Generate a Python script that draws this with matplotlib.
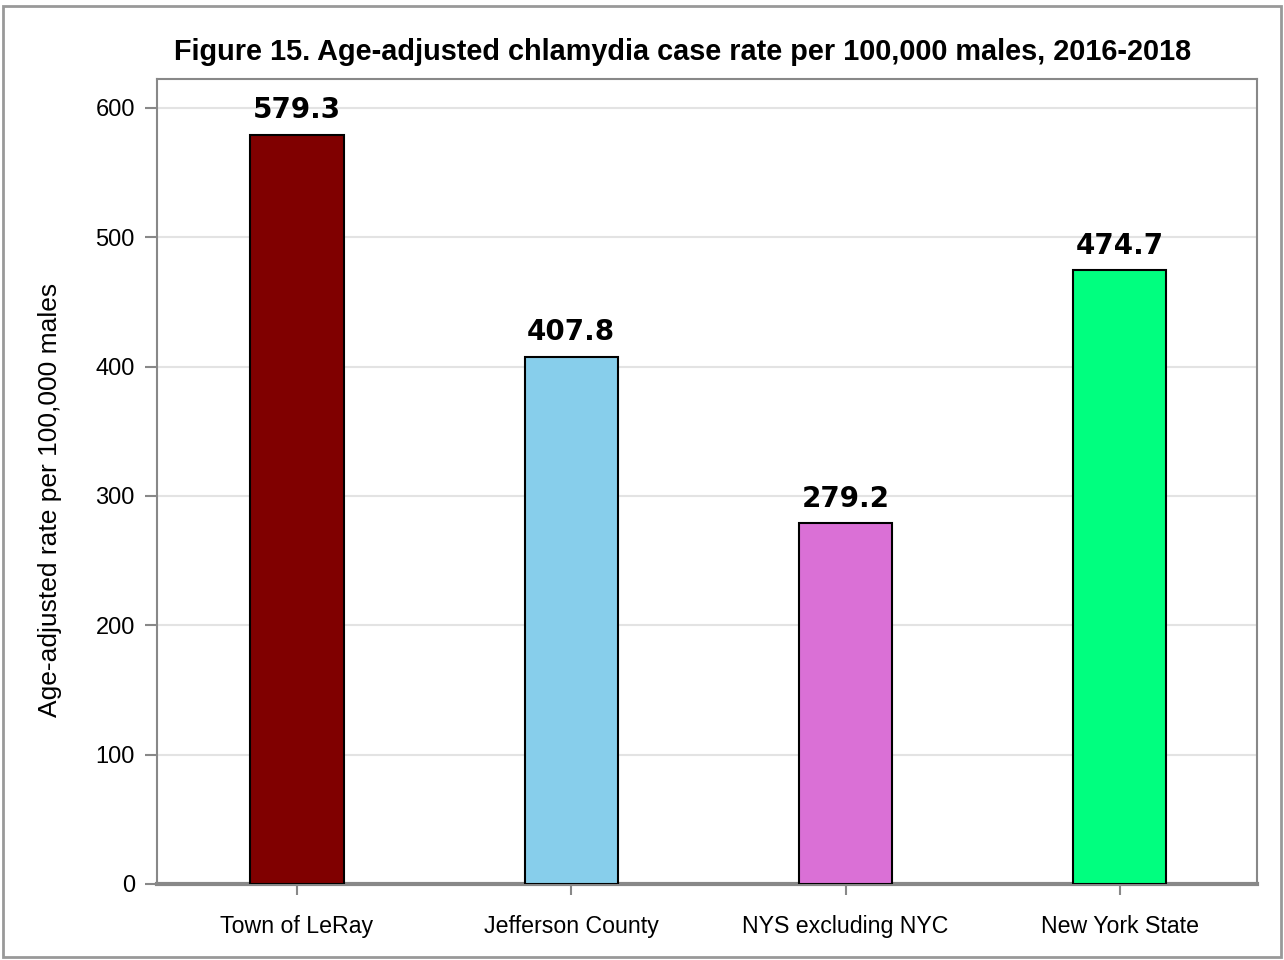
import matplotlib.pyplot as plt
from matplotlib.patches import Rectangle

categories = ['Town of LeRay', 'Jefferson County', 'NYS excluding NYC', 'New York State']
rates = [579.3, 407.8, 279.2, 474.7]
colors = ['#800000', '#87CEEB', '#DA70D6', '#00FF7F']
yticks = [0, 100, 200, 300, 400, 500, 600]

fig = plt.figure(figsize=(12.84, 9.6), dpi=100)
ax = fig.add_axes([157/1284, 1 - 884/960, 1100/1284, 805/960])

x = range(len(categories))
ax.bar(x, rates, width=0.34, color=colors, edgecolor='black', linewidth=1.5, zorder=3)
for i, v in enumerate(rates):
    ax.text(i, v + 8, f'{v:.1f}', ha='center', va='bottom', fontsize=20,
            fontweight='bold', family='DejaVu Sans')

ax.set_xlim(-0.51, 3.5)
ax.set_ylim(0, 622.4)
ax.set_yticks(yticks)
ax.set_xticks(list(x))
ax.set_xticklabels(categories, family='Liberation Sans', fontsize=16.7)
ax.set_yticklabels([str(t) for t in yticks], family='Liberation Sans', fontsize=17)
ax.set_ylabel('Age-adjusted rate per 100,000 males', family='Liberation Sans', fontsize=19, labelpad=24)
ax.yaxis.label.set_y(0.477)
ax.grid(axis='y', color='#e3e3e3', linewidth=1.5, zorder=0)
ax.tick_params(axis='y', color='#888888', length=9, width=1.5, pad=7)
ax.tick_params(axis='x', color='#888888', length=8, width=1.5, pad=14)
for s in ['top', 'right', 'left']:
    ax.spines[s].set_color('#888888')
    ax.spines[s].set_linewidth(1.5)
ax.spines['bottom'].set_color('#888888')
ax.spines['bottom'].set_linewidth(3)

fig.text(0.5 * (172 + 1193) / 1284, 1 - 52/960,
         'Figure 15. Age-adjusted chlamydia case rate per 100,000 males, 2016-2018',
         ha='center', va='center', fontsize=20.8, fontweight='bold', family='Liberation Sans')

fig.patches.append(Rectangle((3/1284, 3/960), 1278/1284, 951/960, transform=fig.transFigure,
                             fill=False, edgecolor='#999999', linewidth=2))

fig.savefig('out.png', dpi=100)
